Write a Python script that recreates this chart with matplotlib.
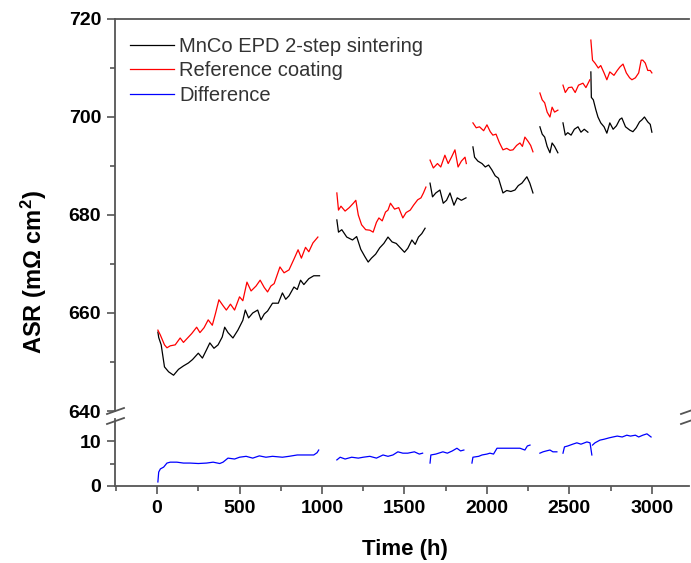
import matplotlib
matplotlib.use("Agg")
from matplotlib import pyplot as plt
from matplotlib.lines import Line2D

plt.rcParams['font.family'] = ['Liberation Sans', 'DejaVu Sans']
plt.rcParams['mathtext.default'] = 'regular'

# data, one list per test segment
black_t = [
    [5, 10, 25, 45, 70, 100, 130, 160, 190, 215, 250, 275, 300, 320, 345, 370, 395, 410, 430, 460,
     490, 520, 535, 555, 580, 610, 630, 650, 670, 700, 735, 760, 780, 800, 830, 850, 870, 890, 920, 950, 985],
    [1090, 1100, 1120, 1150, 1185, 1210, 1235, 1260, 1280, 1300, 1325, 1350, 1375, 1400, 1425, 1450,
     1475, 1500, 1520, 1545, 1565, 1585, 1605, 1625],
    [1655, 1670, 1690, 1715, 1735, 1755, 1776, 1800, 1820, 1845, 1873],
    [1915, 1925, 1945, 1970, 1990, 2010, 2030, 2050, 2070, 2097, 2120, 2145, 2170, 2190, 2212, 2242, 2260, 2279],
    [2321, 2335, 2350, 2365, 2382, 2395, 2410, 2430],
    [2461, 2475, 2490, 2510, 2530, 2552, 2570, 2590, 2612],
    [2630, 2633, 2645, 2660, 2673, 2690, 2710, 2727, 2745, 2765, 2785, 2805, 2818, 2840, 2867, 2885,
     2905, 2925, 2939, 2955, 2975, 2990, 3000],
]
black_v = [
    [656.1, 655.0, 653.5, 649.0, 648.0, 647.3, 648.5, 649.2, 649.8, 650.5, 651.8, 650.8, 652.5, 653.9,
     652.8, 653.5, 655.1, 657.1, 656.0, 654.9, 656.5, 658.5, 660.6, 659.0, 660.0, 660.6, 658.6, 659.8,
     660.4, 662.0, 662.0, 664.1, 662.8, 663.5, 665.3, 664.8, 666.7, 665.8, 667.0, 667.6, 667.6],
    [679.0, 676.5, 677.0, 675.5, 674.9, 675.6, 673.0, 671.5, 670.4, 671.2, 672.0, 673.3, 674.2, 675.5,
     674.5, 674.2, 673.3, 672.4, 673.2, 674.9, 674.0, 675.5, 676.2, 677.3],
    [686.5, 683.7, 684.5, 685.1, 682.4, 683.0, 684.5, 682.0, 683.5, 683.0, 683.5],
    [693.9, 691.8, 691.0, 690.5, 689.8, 690.2, 689.2, 688.0, 687.5, 684.5, 685.0, 684.8, 685.1, 686.0,
     686.5, 687.8, 686.5, 684.5],
    [698.0, 696.5, 695.9, 694.0, 692.7, 694.7, 694.0, 692.7],
    [698.8, 696.3, 696.8, 696.3, 697.5, 698.0, 696.9, 697.5, 696.9],
    [709.2, 704.0, 703.5, 701.5, 700.0, 698.8, 698.0, 696.7, 698.8, 697.5, 698.2, 699.5, 699.8, 698.0,
     697.3, 697.0, 697.8, 699.0, 699.4, 700.0, 699.0, 698.5, 696.9],
]

red_t = [
    [5, 20, 45, 60, 80, 110, 140, 160, 185, 210, 240, 260, 285, 310, 335, 355, 375, 400, 420, 445, 470,
     500, 520, 545, 570, 600, 625, 650, 670, 690, 710, 745, 770, 800, 830, 855, 875, 900, 920, 945, 975],
    [1090, 1100, 1115, 1140, 1165, 1190, 1205, 1220, 1240, 1265, 1290, 1310, 1330, 1345, 1365, 1385,
     1400, 1415, 1440, 1465, 1490, 1510, 1535, 1555, 1580, 1600, 1615, 1630],
    [1655, 1675, 1700, 1720, 1745, 1765, 1785, 1806, 1825, 1845, 1867, 1875],
    [1915, 1935, 1955, 1980, 2000, 2020, 2036, 2055, 2075, 2097, 2120, 2140, 2158, 2180, 2200, 2215,
     2230, 2250, 2265, 2279],
    [2321, 2335, 2350, 2365, 2382, 2395, 2410, 2430],
    [2461, 2475, 2495, 2515, 2535, 2555, 2582, 2600, 2624],
    [2630, 2640, 2655, 2675, 2690, 2710, 2727, 2745, 2770, 2790, 2806, 2825, 2845, 2865, 2879, 2900,
     2920, 2935, 2945, 2960, 2975, 2990, 3000],
]
red_v = [
    [656.5, 655.5, 653.5, 652.9, 653.3, 653.5, 654.9, 654.0, 654.9, 655.8, 657.1, 656.0, 657.0, 658.6,
     657.5, 660.0, 662.7, 661.5, 660.6, 661.8, 660.6, 663.3, 662.5, 666.3, 664.5, 665.5, 666.7, 665.2,
     664.3, 665.5, 666.0, 669.4, 668.2, 668.8, 671.0, 672.9, 671.2, 673.4, 672.5, 674.3, 675.5],
    [684.5, 681.0, 681.8, 680.8, 681.5, 682.4, 683.0, 680.0, 678.0, 677.0, 676.9, 676.5, 678.5, 679.4,
     678.8, 680.6, 681.0, 682.4, 681.2, 681.5, 679.4, 680.5, 681.0, 682.0, 683.1, 683.5, 684.5, 685.7],
    [691.2, 689.6, 690.5, 689.8, 692.2, 690.5, 691.8, 693.3, 689.8, 691.0, 691.8, 690.5],
    [698.8, 697.8, 698.0, 697.2, 698.4, 697.0, 696.3, 696.5, 694.8, 693.3, 693.6, 693.2, 693.3, 694.2,
     694.7, 694.0, 695.9, 695.0, 694.2, 692.9],
    [704.9, 703.5, 702.9, 701.0, 700.0, 702.0, 701.0, 701.4],
    [706.5, 705.0, 706.0, 706.1, 705.0, 706.5, 706.9, 706.0, 707.6],
    [715.7, 711.6, 711.0, 710.0, 710.5, 709.0, 707.6, 709.2, 708.5, 709.5, 710.2, 710.8, 709.0, 708.0,
     707.6, 708.0, 709.0, 711.6, 711.6, 711.0, 709.5, 709.5, 709.0],
]

blue_t = [
    [5, 10, 20, 40, 60, 80, 120, 160, 200, 250, 300, 340, 380, 400, 430, 470, 500, 540, 580, 620, 660,
     700, 760, 800, 850, 900, 950, 970, 980],
    [1090, 1110, 1140, 1180, 1220, 1250, 1290, 1330, 1370, 1400, 1430, 1460, 1490, 1520, 1560, 1590, 1610],
    [1655, 1660, 1690, 1733, 1760, 1790, 1818, 1840, 1860],
    [1909, 1915, 1950, 1970, 2000, 2018, 2040, 2061, 2100, 2150, 2200, 2230, 2245, 2261],
    [2321, 2340, 2360, 2382, 2400, 2424],
    [2461, 2470, 2490, 2520, 2545, 2570, 2606, 2625, 2636],
    [2640, 2655, 2685, 2710, 2740, 2764, 2790, 2820, 2848, 2870, 2900, 2920, 2945, 2970, 2995],
]
blue_v = [
    [0.9, 3.1, 3.8, 4.2, 5.1, 5.3, 5.3, 5.1, 5.1, 5.0, 5.1, 5.3, 5.0, 5.3, 6.2, 6.0, 6.4, 6.6, 6.2, 6.7,
     6.4, 6.6, 6.4, 6.6, 6.9, 6.9, 6.9, 7.4, 8.0],
    [5.8, 6.4, 6.0, 6.4, 6.2, 6.4, 6.6, 6.2, 6.9, 6.6, 6.9, 7.6, 7.3, 7.3, 7.6, 7.1, 7.3],
    [5.1, 6.9, 7.1, 7.6, 7.3, 7.8, 8.4, 7.8, 8.0],
    [5.1, 6.4, 6.6, 6.9, 7.1, 7.3, 7.1, 8.4, 8.4, 8.4, 8.4, 8.0, 8.9, 9.1],
    [7.3, 7.6, 7.8, 8.0, 7.6, 7.6],
    [7.3, 8.7, 8.9, 9.3, 9.6, 9.3, 9.8, 9.6, 6.9],
    [9.1, 9.6, 10.2, 10.4, 10.7, 10.9, 11.1, 10.9, 11.3, 11.1, 11.3, 10.9, 11.3, 11.6, 10.9],
]

W, H = 691, 563
fig = plt.figure(figsize=(W / 100, H / 100), dpi=100)

left, right = 115, 689
up_top, up_bot = 19, 411
lo_top, lo_bot = 419, 486
ax_up = fig.add_axes([left / W, 1 - up_bot / H, (right - left) / W, (up_bot - up_top) / H])
ax_lo = fig.add_axes([left / W, 1 - lo_bot / H, (right - left) / W, (lo_bot - lo_top) / H])

spine_col = '#555555'
lw = 0.9
for i in range(len(black_t)):
    ax_up.plot(black_t[i], black_v[i], color='black', lw=lw,
               label='MnCo EPD 2-step sintering' if i == 0 else None)
for i in range(len(red_t)):
    ax_up.plot(red_t[i], red_v[i], color='red', lw=lw,
               label='Reference coating' if i == 0 else None)
for i in range(len(blue_t)):
    ax_lo.plot(blue_t[i], blue_v[i], color='blue', lw=lw)
ax_up.plot([], [], color='blue', lw=lw, label='Difference')

for ax in (ax_up, ax_lo):
    ax.set_xlim(-255, 3225)
    ax.spines['right'].set_visible(False)
    for s in ax.spines.values():
        s.set_color(spine_col)
        s.set_linewidth(1.3)
    ax.tick_params(which='both', direction='out', color=spine_col, width=1.2, labelsize=14)
    ax.tick_params(which='major', length=6, pad=4)
    ax.tick_params(which='minor', length=3.5)

ax_up.set_ylim(640, 720)
ax_up.set_yticks([640, 660, 680, 700, 720])
ax_up.set_yticks([650, 670, 690, 710], minor=True)
ax_up.spines['bottom'].set_visible(False)
ax_up.tick_params(axis='x', which='both', bottom=False, labelbottom=False)
for lab in ax_up.get_yticklabels():
    lab.set_fontweight('bold')

ax_lo.set_ylim(0, 14.9)
ax_lo.set_yticks([0, 10])
ax_lo.set_yticks([5], minor=True)
ax_lo.spines['top'].set_visible(False)
ax_lo.set_xticks([0, 500, 1000, 1500, 2000, 2500, 3000])
ax_lo.set_xticks([-250, 250, 750, 1250, 1750, 2250, 2750], minor=True)
for lab in ax_lo.get_xticklabels() + ax_lo.get_yticklabels():
    lab.set_fontweight('bold')

leg = ax_up.legend(loc='upper left', bbox_to_anchor=(0.012, 0.975), frameon=False,
                   fontsize=14.5, handlelength=2.2, handletextpad=0.25, labelspacing=0.28,
                   borderaxespad=0)
for txt in leg.get_texts():
    txt.set_color('#333333')

# axis break marks
for x0 in (left, right):
    for y0 in (up_bot + 1, lo_top + 3):
        fig.add_artist(Line2D([(x0 - 8) / W, (x0 + 9) / W], [1 - (y0 + 2) / H, 1 - (y0 - 4) / H],
                              color=spine_col, lw=1.3))

fig.text(34 / W, 1 - 272 / H, 'ASR (mΩ cm$^{2}$)', rotation=90, ha='center', va='center',
         fontsize=17, fontweight='bold')
fig.text(405 / W, 1 - 549 / H, 'Time (h)', ha='center', va='center', fontsize=16, fontweight='bold')

fig.savefig('out.png', dpi=100)
